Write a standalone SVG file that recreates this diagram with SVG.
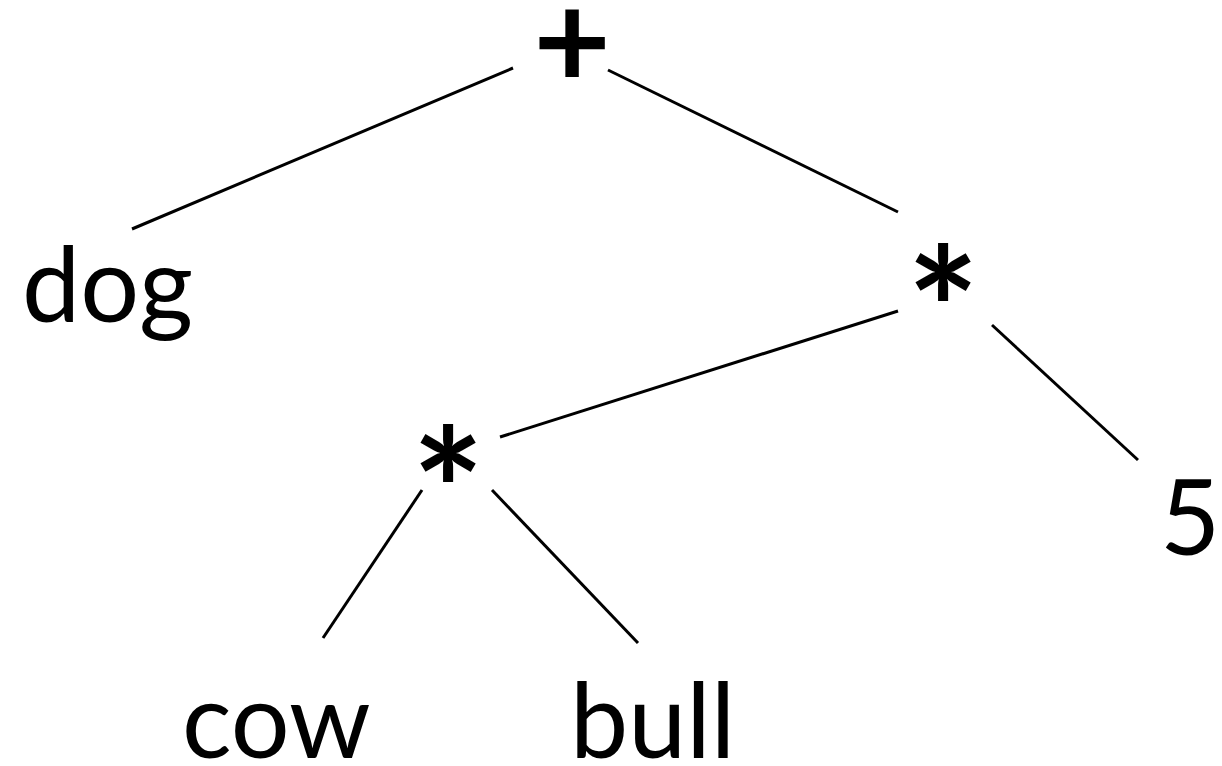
<svg xmlns="http://www.w3.org/2000/svg" width="1222" height="766" viewBox="0 0 1222 766">
  <style>
    .lbl { font-family: Lato, "Liberation Sans", sans-serif; font-size: 104px; fill: #000; }
    .op { font-family: Lato, "Liberation Sans", sans-serif; font-weight: bold; fill: #000; text-anchor: middle; }
    .edge { stroke: #000; stroke-width: 3; stroke-linecap: butt; fill: none; }
  </style>
  <rect width="1222" height="766" fill="#fff"/>
  <g id="edges">
    <line class="edge" x1="513" y1="68" x2="132" y2="229"/>
    <line class="edge" x1="608" y1="70" x2="898" y2="212"/>
    <line class="edge" x1="898" y1="311" x2="500" y2="437"/>
    <line class="edge" x1="992" y1="325" x2="1138" y2="460"/>
    <line class="edge" x1="422" y1="490" x2="323" y2="638"/>
    <line class="edge" x1="492" y1="490" x2="638" y2="643"/>
  </g>
  <g id="plus"><text class="op" x="572" y="88" font-size="134">+</text></g>
  <g id="dog"><text class="lbl" x="22" y="322">dog</text></g>
  <g id="mul1"><text class="op" x="943" y="372" font-size="171">*</text></g>
  <g id="mul2"><text class="op" x="448" y="553" font-size="171">*</text></g>
  <g id="five"><text class="lbl" x="1160" y="555">5</text></g>
  <g id="cow"><text class="lbl" x="182" y="758">cow</text></g>
  <g id="bull"><text class="lbl" x="570" y="758">bull</text></g>
</svg>
